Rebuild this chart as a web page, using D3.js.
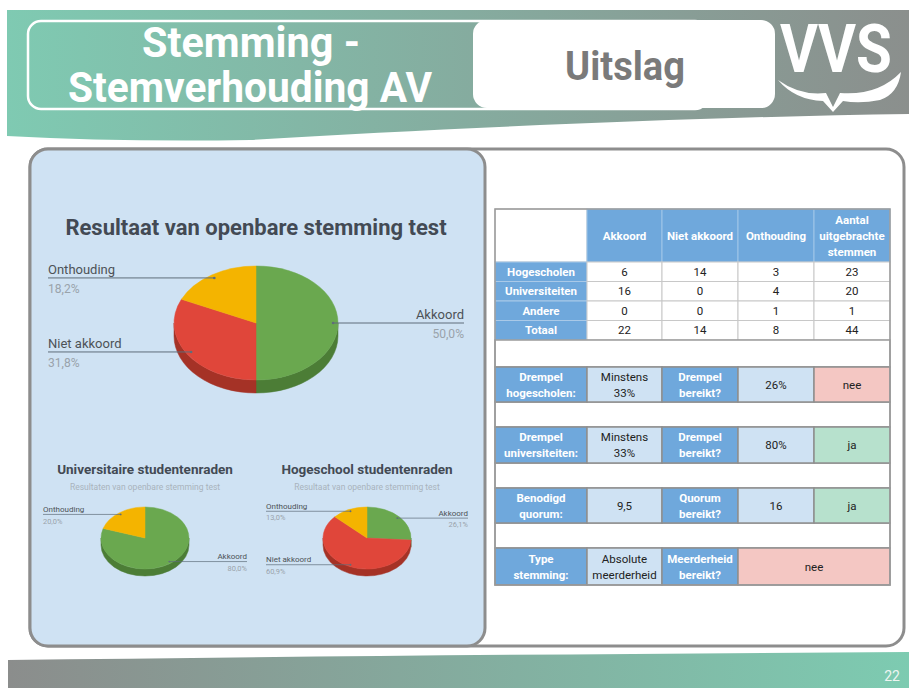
<!DOCTYPE html>
<html>
<head>
<meta charset="utf-8">
<title>Stemming - Stemverhouding AV</title>
<script src="https://cdnjs.cloudflare.com/ajax/libs/d3/7.8.5/d3.min.js"></script>
<style>
body { margin: 0; background: #fff; }
svg { display: block; font-family: Roboto, "Noto Sans", sans-serif; }
</style>
</head>
<body>
<script>
// ---- data ----
var categories = ["Akkoord", "Niet akkoord", "Onthouding"];
var tableHeaders = ["Akkoord", "Niet akkoord", "Onthouding", "Aantal\nuitgebrachte\nstemmen"];
var rowLabels = ["Hogescholen", "Universiteiten", "Andere", "Totaal"];
var hogescholen = [6, 14, 3, 23];
var universiteiten = [16, 0, 4, 20];
var andere = [0, 0, 1, 1];
var totaal = [22, 14, 8, 44];

var checkRows = [
	["Drempel\nhogescholen:", "Minstens\n33%", "Drempel\nbereikt?", "26%", "nee"],
	["Drempel\nuniversiteiten:", "Minstens\n33%", "Drempel\nbereikt?", "80%", "ja"],
	["Benodigd\nquorum:", "9,5", "Quorum\nbereikt?", "16", "ja"],
	["Type\nstemming:", "Absolute\nmeerderheid", "Meerderheid\nbereikt?", "nee"]
];

var W = 909, H = 688;
var svg = d3.select("body").append("svg").attr("width", W).attr("height", H);
var defs = svg.append("defs");

function grad(id, c0, c1) {
	var g = defs.append("linearGradient").attr("id", id).attr("x1", 0).attr("x2", 1).attr("y1", 0).attr("y2", 0);
	g.append("stop").attr("offset", 0).attr("stop-color", c0);
	g.append("stop").attr("offset", 1).attr("stop-color", c1);
}
grad("headGrad", "#7fcab2", "#8b8f8d");
grad("footGrad", "#8b8d8c", "#7dcbb1");

// ---- header ----
svg.append("path")
	.attr("d", "M7,10 H909 V114 C700,117 450,128 250,140 Q120,142 7,136 Z")
	.attr("fill", "url(#headGrad)");

svg.append("rect")
	.attr("x", 28).attr("y", 21).attr("width", 680).attr("height", 88).attr("rx", 13)
	.attr("fill", "none").attr("stroke", "#fff").attr("stroke-width", 2.5);

svg.append("text").attr("x", 142).attr("y", 57)
	.attr("font-size", 42).attr("font-weight", 700).attr("fill", "#fff")
	.attr("textLength", 218).attr("lengthAdjust", "spacingAndGlyphs").text("Stemming -");
svg.append("text").attr("x", 68).attr("y", 102)
	.attr("font-size", 42).attr("font-weight", 700).attr("fill", "#fff")
	.attr("textLength", 364).attr("lengthAdjust", "spacingAndGlyphs").text("Stemverhouding AV");

svg.append("rect")
	.attr("x", 473).attr("y", 20).attr("width", 302).attr("height", 88).attr("rx", 14)
	.attr("fill", "#fff");
svg.append("text").attr("x", 565).attr("y", 80)
	.attr("font-size", 40).attr("font-weight", 700).attr("fill", "#7a7a7a")
	.attr("textLength", 120).attr("lengthAdjust", "spacingAndGlyphs").text("Uitslag");

// VVS logo
svg.append("text").attr("x", 780).attr("y", 72)
	.attr("font-size", 66).attr("font-weight", 700).attr("fill", "#fff")
	.attr("textLength", 112).attr("lengthAdjust", "spacingAndGlyphs").text("VVS");
svg.append("path")
	.attr("d", "M778,80 Q800,96 826,93 L833,107 L840,93 Q878,96 901,72 Q898,94 880,100 Q860,104 843,101 L833,112 L823,101 Q795,100 778,80 Z")
	.attr("fill", "#fff");

// ---- panels ----
svg.append("rect")
	.attr("x", 30).attr("y", 149).attr("width", 874).attr("height", 497).attr("rx", 18)
	.attr("fill", "#fff").attr("stroke", "#8d8d8d").attr("stroke-width", 3);
svg.append("rect")
	.attr("x", 30).attr("y", 149).attr("width", 455).attr("height", 497).attr("rx", 18)
	.attr("fill", "#cfe2f3").attr("stroke", "#8d8d8d").attr("stroke-width", 3);

// ---- footer ----
svg.append("path")
	.attr("d", "M8,660 Q400,655 909,652 V688 H8 Z")
	.attr("fill", "url(#footGrad)");
svg.append("text").attr("x", 900).attr("y", 681).attr("text-anchor", "end")
	.attr("font-size", 14).attr("fill", "#eef5f1").text("22");

// ---- 3D pies ----
var topColor = d3.scaleOrdinal().domain(categories).range(["#6aa84f", "#e0463a", "#f4b400"]);
var sideColor = d3.scaleOrdinal().domain(categories).range(["#4c7d36", "#a53226", "#b88700"]);
var pctFmt = function (v) { return d3.format(".1f")(v * 100).replace(".", ",") + "%"; };

function pie3d(values, o) {
	var g = svg.append("g");
	var total = d3.sum(values);
	var arcs = d3.pie().sort(null).value(function (d) { return d; })(values)
		.map(function (a, i) { a.name = categories[i]; return a; })
		.filter(function (a) { return a.value > 0; });
	function pt(a, dy) { return [o.cx + o.rx * Math.sin(a), o.cy - o.ry * Math.cos(a) + (dy || 0)]; }

	// outer wall, only the front half is visible
	arcs.forEach(function (a) {
		var s = Math.max(a.startAngle, Math.PI / 2), e = Math.min(a.endAngle, 3 * Math.PI / 2);
		if (s >= e) return;
		var p0 = pt(s), p1 = pt(e), q1 = pt(e, o.depth), q0 = pt(s, o.depth);
		g.append("path")
			.attr("d", "M" + p0 + " A" + o.rx + "," + o.ry + " 0 0 1 " + p1 + " L" + q1 +
				" A" + o.rx + "," + o.ry + " 0 0 0 " + q0 + " Z")
			.attr("fill", sideColor(a.name)).attr("stroke", sideColor(a.name)).attr("stroke-width", 0.5);
	});
	// top faces
	arcs.forEach(function (a) {
		var large = a.endAngle - a.startAngle > Math.PI ? 1 : 0;
		g.append("path")
			.attr("d", "M" + o.cx + "," + o.cy + " L" + pt(a.startAngle) + " A" + o.rx + "," + o.ry +
				" 0 " + large + " 1 " + pt(a.endAngle) + " Z")
			.attr("fill", topColor(a.name)).attr("stroke", topColor(a.name)).attr("stroke-width", 0.5);
	});
	// leader lines + labels
	arcs.forEach(function (a) {
		var m = (a.startAngle + a.endAngle) / 2;
		var dot = [o.cx + 0.94 * o.rx * Math.sin(m), o.cy - 0.94 * o.ry * Math.cos(m)];
		var right = Math.sin(m) > 0;
		var lx = right ? o.right : o.left;
		g.append("line").attr("x1", lx).attr("x2", dot[0]).attr("y1", dot[1]).attr("y2", dot[1])
			.attr("stroke", "#5f6d7a").attr("stroke-width", o.lw);
		g.append("circle").attr("cx", dot[0]).attr("cy", dot[1]).attr("r", o.lw * 1.3).attr("fill", "#5f6d7a");
		g.append("text").attr("x", lx).attr("y", dot[1] - o.fs * 0.32)
			.attr("text-anchor", right ? "end" : "start")
			.attr("font-size", o.fs).attr("fill", "#4d5257").text(a.name);
		g.append("text").attr("x", lx).attr("y", dot[1] + o.fs * 1.15)
			.attr("text-anchor", right ? "end" : "start")
			.attr("font-size", o.fs * 0.93).attr("fill", "#9aa3ab").text(pctFmt(a.value / total));
	});
	g.append("text").attr("x", o.cx).attr("y", o.titleY).attr("text-anchor", "middle")
		.attr("font-size", o.tfs).attr("font-weight", 700).attr("fill", "#434a54").text(o.title);
	if (o.sub) {
		g.append("text").attr("x", o.cx).attr("y", o.titleY + 16).attr("text-anchor", "middle")
			.attr("font-size", 8.5).attr("fill", "#a9b3bc").text(o.sub);
	}
}

pie3d(totaal.slice(0, 3), { cx: 256, cy: 323, rx: 82, ry: 57, depth: 13, left: 48, right: 464,
	fs: 13, lw: 1, title: "Resultaat van openbare stemming test", titleY: 235, tfs: 22 });
pie3d(universiteiten.slice(0, 3), { cx: 145, cy: 538, rx: 44, ry: 31, depth: 7, left: 43, right: 247,
	fs: 8, lw: 0.7, title: "Universitaire studentenraden", sub: "Resultaten van openbare stemming test",
	titleY: 474, tfs: 13.5 });
pie3d(hogescholen.slice(0, 3), { cx: 367, cy: 538, rx: 44, ry: 31, depth: 7, left: 266, right: 468,
	fs: 8, lw: 0.7, title: "Hogeschool studentenraden", sub: "Resultaat van openbare stemming test",
	titleY: 474, tfs: 13.5 });

// ---- table ----
var colX = [495, 587, 662, 738, 814, 890];
var blue = "#6fa8dc", light = "#cfe2f3", pink = "#f4c7c3", mint = "#b7e1cd";
var tbl = svg.append("g").attr("font-size", 11.5);

function cell(x0, x1, y0, y1, fill, stroke, sw, txt, bold, color) {
	tbl.append("rect").attr("x", x0).attr("y", y0).attr("width", x1 - x0).attr("height", y1 - y0)
		.attr("fill", fill).attr("stroke", stroke).attr("stroke-width", sw);
	if (txt === undefined || txt === "") return;
	var lines = String(txt).split("\n");
	var lh = 16, cy = (y0 + y1) / 2;
	lines.forEach(function (l, i) {
		tbl.append("text").attr("x", (x0 + x1) / 2)
			.attr("y", cy + (i - (lines.length - 1) / 2) * lh + 4)
			.attr("text-anchor", "middle").attr("font-weight", bold ? 700 : 400)
			.attr("fill", color).text(l);
	});
}

// header row
var headY = [209, 262];
cell(colX[0], colX[1], headY[0], headY[1], "#fff", "#c4c4c4", 1);
tableHeaders.forEach(function (h, i) {
	cell(colX[i + 1], colX[i + 2], headY[0], headY[1], blue, "#9fc5e8", 1, h, true, "#fff");
});

// vote rows
var rowY = d3.scaleLinear().domain([0, 4]).range([262, 340]);
[hogescholen, universiteiten, andere, totaal].forEach(function (row, r) {
	cell(colX[0], colX[1], rowY(r), rowY(r + 1), blue, "#a9c9e8", 1, rowLabels[r], true, "#fff");
	row.forEach(function (v, i) {
		cell(colX[i + 1], colX[i + 2], rowY(r), rowY(r + 1), "#fff", "#c8c8c8", 1, v, false, "#222");
	});
});

// check rows, with blank spacer rows between
var checkY = [[367, 402], [427, 463], [488, 523], [548, 585]];
var spacerY = [[340, 367], [402, 427], [463, 488], [523, 548]];
spacerY.forEach(function (s) {
	cell(colX[0], colX[5], s[0], s[1], "#fff", "#9a9a9a", 1.5);
});
checkRows.forEach(function (row, r) {
	var y0 = checkY[r][0], y1 = checkY[r][1];
	cell(colX[0], colX[1], y0, y1, blue, "#8f8f8f", 1.5, row[0], true, "#fff");
	cell(colX[1], colX[2], y0, y1, light, "#8f8f8f", 1.5, row[1], false, "#222");
	cell(colX[2], colX[3], y0, y1, blue, "#8f8f8f", 1.5, row[2], true, "#fff");
	var ansFill = function (t) { return t === "ja" ? mint : t === "nee" ? pink : light; };
	if (row.length === 5) {
		cell(colX[3], colX[4], y0, y1, ansFill(row[3]), "#8f8f8f", 1.5, row[3], false, "#222");
		cell(colX[4], colX[5], y0, y1, ansFill(row[4]), "#8f8f8f", 1.5, row[4], false, "#222");
	} else {
		cell(colX[3], colX[5], y0, y1, ansFill(row[3]), "#8f8f8f", 1.5, row[3], false, "#222");
	}
});
// outer border
tbl.append("rect").attr("x", colX[0]).attr("y", 209).attr("width", colX[5] - colX[0]).attr("height", 585 - 209)
	.attr("fill", "none").attr("stroke", "#9a9a9a").attr("stroke-width", 1.5);
</script>
</body>
</html>
